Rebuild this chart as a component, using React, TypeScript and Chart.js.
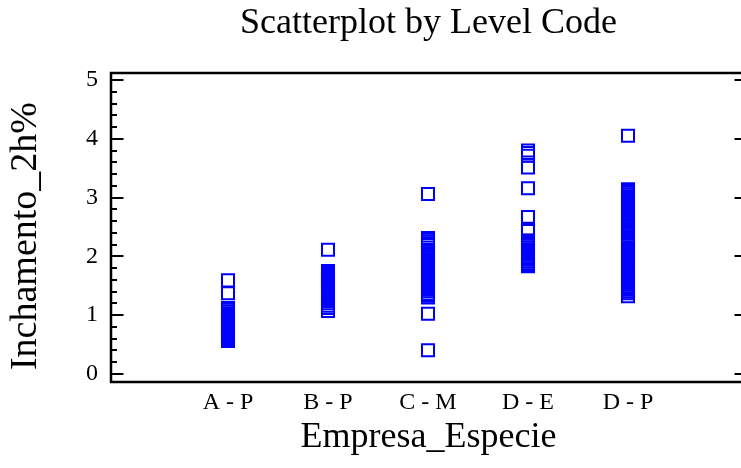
import React, { useEffect, useRef } from "react";
import { Chart, registerables } from "chart.js";

Chart.register(...registerables);

const chartTitle = "Scatterplot by Level Code";
const xTitle = "Empresa_Especie";
const yTitle = "Inchamento_2h% \u2009";

const categories = ["A - P", "B - P", "C - M", "D - E", "D - P"];
const yTickValues = [0, 1, 2, 3, 4, 5];

const valuesAP = [1.59, 1.37, 1.12, 1.09, 1.06, 1.03, 1.0, 0.98, 0.95, 0.93, 0.9, 0.88, 0.85, 0.83, 0.8, 0.78, 0.75, 0.73, 0.7, 0.68, 0.66, 0.64, 0.62, 0.6, 0.58, 0.56];
const valuesBP = [2.11, 1.75, 1.73, 1.7, 1.68, 1.65, 1.63, 1.6, 1.58, 1.55, 1.52, 1.5, 1.47, 1.44, 1.42, 1.39, 1.36, 1.33, 1.3, 1.27, 1.24, 1.2, 1.16, 1.12, 1.07];
const valuesCM = [3.06, 2.31, 2.28, 2.25, 2.22, 2.19, 2.15, 2.11, 2.08, 2.04, 2.01, 1.98, 1.95, 1.92, 1.89, 1.85, 1.82, 1.79, 1.76, 1.73, 1.7, 1.67, 1.64, 1.61, 1.58, 1.55, 1.52, 1.49, 1.46, 1.43, 1.4, 1.36, 1.33, 1.3, 1.02, 0.4];
const valuesDE = [3.8, 3.76, 3.71, 3.51, 3.16, 2.67, 2.47, 2.45, 2.43, 2.27, 2.24, 2.21, 2.18, 2.15, 2.12, 2.09, 2.06, 2.03, 2.0, 1.97, 1.94, 1.91, 1.88, 1.85, 1.83];
const valuesDP = [4.05, 3.14, 3.11, 3.08, 3.05, 3.02, 2.99, 2.96, 2.93, 2.9, 2.87, 2.84, 2.81, 2.78, 2.75, 2.72, 2.69, 2.66, 2.63, 2.6, 2.57, 2.52, 2.49, 2.46, 2.43, 2.4, 2.34, 2.3, 2.27, 2.24, 2.21, 2.18, 2.15, 2.12, 2.09, 2.06, 2.03, 2.0, 1.97, 1.94, 1.91, 1.88, 1.85, 1.82, 1.79, 1.76, 1.73, 1.7, 1.67, 1.64, 1.61, 1.58, 1.55, 1.52, 1.49, 1.46, 1.43, 1.4, 1.37, 1.32];

const seriesByCategory = [valuesAP, valuesBP, valuesCM, valuesDE, valuesDP];

const FONT = "'Liberation Serif', 'Times New Roman', serif";

const framePlugin = {
  id: "frame",
  afterDraw(chart: any) {
    const { ctx, chartArea: a, scales } = chart;
    const ys = scales.y;
    const L = a.left + 1;
    const R = a.right;
    const T = a.top;
    const B = a.bottom;
    ctx.save();
    ctx.strokeStyle = "#000";
    ctx.lineWidth = 2.5;
    ctx.strokeRect(L, T, R - L, B - T);
    ctx.lineWidth = 2;
    ctx.beginPath();
    for (let i = 0; i <= 25; i++) {
      const v = i / 5;
      const py = Math.round(ys.getPixelForValue(v));
      const len = i % 5 === 0 ? 12.5 : 6;
      ctx.moveTo(L, py);
      ctx.lineTo(L + len, py);
      ctx.moveTo(R, py);
      ctx.lineTo(R - len, py);
    }
    ctx.stroke();
    ctx.restore();
  },
};

export default function App() {
  const ref = useRef<HTMLCanvasElement | null>(null);

  useEffect(() => {
    const canvas = ref.current;
    if (!canvas) return;
    const points: { x: number; y: number }[] = [];
    seriesByCategory.forEach((vals, i) => {
      vals.forEach((v) => points.push({ x: i, y: v }));
    });

    const chart = new Chart(canvas, {
      type: "scatter",
      data: {
        datasets: [
          {
            data: points,
            pointStyle: "rect",
            pointRadius: 8.5,
            pointHoverRadius: 8.5,
            pointBorderWidth: 2,
            borderColor: "#0000ff",
            backgroundColor: "rgba(0,0,0,0)",
            pointBackgroundColor: "rgba(0,0,0,0)",
            pointBorderColor: "#0000ff",
          },
        ],
      },
      options: {
        responsive: false,
        animation: false,
        devicePixelRatio: 1,
        layout: { padding: { left: 0, right: 13, top: 0, bottom: 0 } },
        plugins: {
          legend: { display: false },
          tooltip: { enabled: false },
          title: {
            display: true,
            text: chartTitle,
            color: "#000",
            fullSize: false,
            font: { family: FONT, size: 36, weight: "normal" },
            padding: { top: 1.5, bottom: 28.3 },
          },
        },
        scales: {
          x: {
            type: "linear",
            min: -1.18,
            max: 5.19,
            afterBuildTicks: (scale: any) => {
              scale.ticks = categories.map((_, i) => ({ value: i }));
            },
            afterFit: (scale: any) => {
              scale.height = 86;
            },
            grid: { display: false, drawTicks: false },
            border: { display: false },
            ticks: {
              autoSkip: false,
              maxRotation: 0,
              color: "#000",
              padding: 6.3,
              font: { family: FONT, size: 24 },
              callback: (v: any) => categories[Math.round(v)] ?? "",
            },
            title: {
              display: true,
              text: xTitle,
              color: "#000",
              font: { family: FONT, size: 36, weight: "normal" },
              padding: { top: 0, bottom: 9.3 },
            },
          },
          y: {
            type: "linear",
            min: -0.14,
            max: 5.12,
            afterBuildTicks: (scale: any) => {
              scale.ticks = yTickValues.map((v) => ({ value: v }));
            },
            afterFit: (scale: any) => {
              scale.width = 110;
            },
            grid: { display: false, drawTicks: false },
            border: { display: false },
            ticks: {
              color: "#000",
              padding: 12,
              font: { family: FONT, size: 24 },
              callback: (v: any) => String(v),
            },
            title: {
              display: true,
              text: yTitle,
              color: "#000",
              font: { family: FONT, size: 38, weight: "normal" },
              padding: { top: 3.7, bottom: 0 },
            },
          },
        },
      } as any,
      plugins: [framePlugin],
    });
    return () => chart.destroy();
  }, []);

  return (
    <div
      style={{
        position: "fixed",
        left: 0,
        top: 0,
        width: 741,
        height: 468,
        overflow: "hidden",
        background: "#fff",
      }}
    >
      <canvas ref={ref} width={760} height={468} style={{ width: 760, height: 468, display: "block" }} />
    </div>
  );
}
